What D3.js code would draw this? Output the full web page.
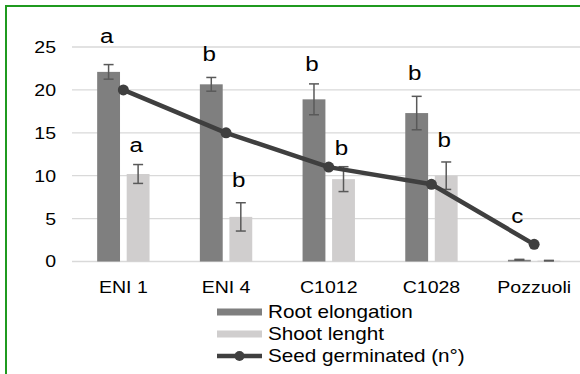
<!DOCTYPE html>
<html>
<head>
<meta charset="utf-8">
<script src="https://cdn.jsdelivr.net/npm/d3@7"></script>
<style>
  body { margin: 0; background: #ffffff; }
  text { font-family: "Liberation Sans", Arial, sans-serif; fill: #000000; }
</style>
</head>
<body>
<div id="chart"></div>
<script>
/* DATA */
const categories = ["ENI 1", "ENI 4", "C1012", "C1028", "Pozzuoli"];
const rootElongation = [22.1, 20.65, 18.9, 17.3, 0.2];
const rootError = [0.85, 0.8, 1.8, 1.95, 0.05];
const shootLength = [10.2, 5.2, 9.6, 10.0, 0.1];
const shootError = [1.1, 1.65, 1.45, 1.6, 0.03];
const seedGerminated = [20, 15, 11, 9, 2];
const rootLetters = ["a", "b", "b", "b", "c"];
const rootLetterAt = [25.5, 23.4, 22.2, 21.1, 4.5];
const shootLetters = ["a", "b", "b", "b", ""];
const shootLetterAt = [12.8, 8.7, 12.4, 13.4, 0];
const yTicks = [0, 5, 10, 15, 20, 25];
const seriesNames = ["Root elongation", "Shoot lenght", "Seed germinated (n°)"];

/* CONSTANTS */
const width = 580,
  height = 374,
  margin = { top: 47, left: 72 },
  plotRight = 585.5,
  plotBottom = 261.5,
  stretch = 1.15; // text in the picture is a bit wider than it is tall

const colors = { root: "#7f7f7f", shoot: "#d0cece", line: "#3f3f3f", err: "#595959", grid: "#d9d9d9" };

const svg = d3.select("#chart")
  .append("svg")
  .attr("width", width)
  .attr("height", height);

// frame
svg.append("rect")
  .attr("x", 6).attr("y", 6)
  .attr("width", 700).attr("height", 500)
  .attr("fill", "none")
  .attr("stroke", "#1f9a1f")
  .attr("stroke-width", 2);

/* SCALES */
const xScale = d3.scaleBand()
  .domain(categories)
  .range([margin.left, plotRight])
  .padding(0);

const bw = xScale.bandwidth();
const subScale = d3.scaleBand()
  .domain(["root", "shoot"])
  .range([0.245 * bw, 0.755 * bw])
  .paddingInner(0.226);

const yScale = d3.scaleLinear()
  .domain([0, 25])
  .range([plotBottom, margin.top]);

// gridlines
svg.append("g")
  .selectAll("line")
  .data(yTicks)
  .join("line")
  .attr("x1", margin.left)
  .attr("x2", plotRight)
  .attr("y1", d => yScale(d))
  .attr("y2", d => yScale(d))
  .attr("stroke", colors.grid)
  .attr("stroke-width", 1.3);

/* AXES */
const yAxis = d3.axisLeft(yScale).tickValues(yTicks).tickSize(0).tickPadding(16);
const yG = svg.append("g")
  .attr("transform", `translate(${margin.left}, 0)`)
  .call(yAxis);
yG.select(".domain").remove();
yG.selectAll("text")
  .attr("font-size", 17)
  .attr("font-family", "Liberation Sans, Arial, sans-serif")
  .attr("fill", "#000")
  .attr("transform", `scale(${stretch},1)`)
  .attr("x", -16 / stretch);

const xAxis = d3.axisBottom(xScale).tickSize(0).tickPadding(19.5);
const xG = svg.append("g")
  .attr("transform", `translate(0, ${plotBottom})`)
  .call(xAxis);
xG.select(".domain").remove();
xG.selectAll("text")
  .attr("font-size", 17)
  .attr("font-family", "Liberation Sans, Arial, sans-serif")
  .attr("fill", "#000")
  .attr("transform", `scale(${stretch},1)`);

/* BARS */
const rows = categories.map((c, i) => ({
  cat: c,
  root: rootElongation[i], rootErr: rootError[i],
  shoot: shootLength[i], shootErr: shootError[i],
  seed: seedGerminated[i],
  rootLetter: rootLetters[i], rootAt: rootLetterAt[i],
  shootLetter: shootLetters[i], shootAt: shootLetterAt[i]
}));

const bars = [];
rows.forEach(d => {
  bars.push({ cat: d.cat, key: "root", v: d.root, e: d.rootErr, letter: d.rootLetter, at: d.rootAt });
  bars.push({ cat: d.cat, key: "shoot", v: d.shoot, e: d.shootErr, letter: d.shootLetter, at: d.shootAt });
});

const barX = d => xScale(d.cat) + subScale(d.key);
const barCx = d => barX(d) + subScale.bandwidth() / 2;

svg.append("g")
  .selectAll("rect")
  .data(bars)
  .join("rect")
  .attr("x", barX)
  .attr("width", subScale.bandwidth())
  .attr("y", d => yScale(d.v))
  .attr("height", d => plotBottom - yScale(d.v))
  .attr("fill", d => colors[d.key]);

// error bars
const errG = svg.append("g")
  .attr("stroke", colors.err)
  .attr("stroke-width", 1.5);

errG.selectAll(".stem")
  .data(bars)
  .join("line")
  .attr("class", "stem")
  .attr("x1", barCx).attr("x2", barCx)
  .attr("y1", d => yScale(d.v + d.e))
  .attr("y2", d => yScale(Math.max(0, d.v - d.e)));

errG.selectAll(".capTop")
  .data(bars)
  .join("line")
  .attr("class", "capTop")
  .attr("x1", d => barCx(d) - 5).attr("x2", d => barCx(d) + 5)
  .attr("y1", d => yScale(d.v + d.e))
  .attr("y2", d => yScale(d.v + d.e));

errG.selectAll(".capBot")
  .data(bars)
  .join("line")
  .attr("class", "capBot")
  .attr("x1", d => barCx(d) - 5).attr("x2", d => barCx(d) + 5)
  .attr("y1", d => yScale(Math.max(0, d.v - d.e)))
  .attr("y2", d => yScale(Math.max(0, d.v - d.e)));

/* LINE */
const lineX = d => xScale(d.cat) + bw / 2;
const line = d3.line()
  .x(lineX)
  .y(d => yScale(d.seed));

svg.append("path")
  .datum(rows)
  .attr("d", line)
  .attr("fill", "none")
  .attr("stroke", colors.line)
  .attr("stroke-width", 4.5)
  .attr("stroke-linejoin", "round");

svg.append("g")
  .selectAll("circle")
  .data(rows)
  .join("circle")
  .attr("cx", lineX)
  .attr("cy", d => yScale(d.seed))
  .attr("r", 5.5)
  .attr("fill", colors.line);

/* LETTERS */
svg.append("g")
  .selectAll("text")
  .data(bars.filter(d => d.letter !== ""))
  .join("text")
  .attr("transform", d => `translate(${barCx(d) - 2}, ${yScale(d.at)}) scale(${stretch},1)`)
  .attr("text-anchor", "middle")
  .attr("font-size", 21)
  .text(d => d.letter);

/* LEGEND */
const legendX = 217, legendY = [312, 334, 356];
const legend = svg.append("g");

["root", "shoot"].forEach((k, i) => {
  legend.append("rect")
    .attr("x", legendX)
    .attr("y", legendY[i] - 3.5)
    .attr("width", 45)
    .attr("height", 7)
    .attr("fill", colors[k]);
});

legend.append("line")
  .attr("x1", legendX).attr("x2", legendX + 45)
  .attr("y1", legendY[2]).attr("y2", legendY[2])
  .attr("stroke", colors.line)
  .attr("stroke-width", 4.5);
legend.append("circle")
  .attr("cx", legendX + 22.5)
  .attr("cy", legendY[2])
  .attr("r", 5)
  .attr("fill", colors.line);

legend.selectAll("text")
  .data(seriesNames)
  .join("text")
  .attr("transform", (d, i) => `translate(${legendX + 51}, ${legendY[i]}) scale(${stretch},1)`)
  .attr("dy", "0.35em")
  .attr("font-size", 18)
  .text(d => d);
</script>
</body>
</html>
